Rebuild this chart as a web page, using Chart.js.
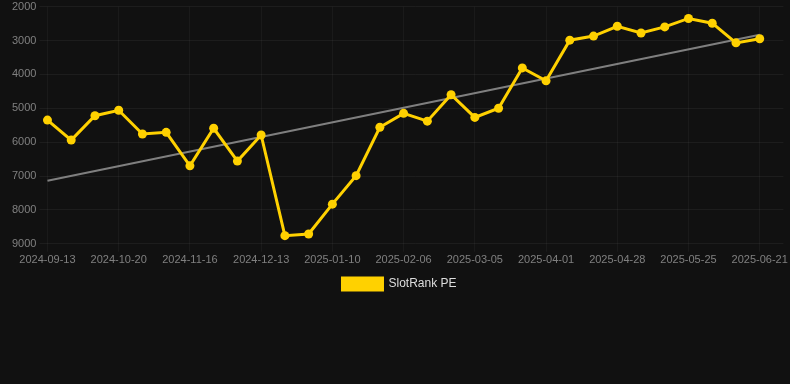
<!DOCTYPE html>
<html lang="en">
<head>
    <meta charset="UTF-8">
    <title>SlotRank PE</title>
    <style>
        html, body {
            margin: 0;
            padding: 0;
            background: #111111;
            overflow: hidden;
        }

        .wrap {
            width: 790px;
            height: 303px;
            margin-top: -3px;
        }
    </style>
    <script src="https://cdn.jsdelivr.net/npm/chart.js"></script>
</head>
<body>
    <div class="wrap">
        <canvas id="rankChart"></canvas>
    </div>

    <script>
        const dates = [
            '2024-09-13', '2024-09-25', '2024-10-08', '2024-10-20', '2024-10-29', '2024-11-07',
            '2024-11-16', '2024-11-25', '2024-12-04', '2024-12-13', '2024-12-22', '2025-01-01',
            '2025-01-10', '2025-01-19', '2025-01-28', '2025-02-06', '2025-02-15', '2025-02-24',
            '2025-03-05', '2025-03-14', '2025-03-23', '2025-04-01', '2025-04-10', '2025-04-19',
            '2025-04-28', '2025-05-07', '2025-05-16', '2025-05-25', '2025-06-03', '2025-06-12',
            '2025-06-21', '2025-06-30'
        ];
        const rankValues = [
            5350, 5940, 5220, 5060, 5760, 5710, 6700, 5590, 6560, 5790,
            8760, 8710, 7830, 6990, 5560, 5150, 5380, 4600, 5270, 5000,
            3810, 4190, 2990, 2870, 2580, 2780, 2600, 2350, 2490, 3070,
            2950
        ];
        // trend line: only the two end values, gap spanned
        const trendValues = [7140].concat(new Array(29).fill(null), [2830]);
        const yTicks = [2000, 3000, 4000, 5000, 6000, 7000, 8000, 9000];

        const ctx = document.getElementById('rankChart').getContext('2d');
        new Chart(ctx, {
            type: 'line',
            data: {
                labels: dates,
                datasets: [{
                    label: 'SlotRank PE',
                    data: rankValues,
                    borderColor: '#FFD100',
                    backgroundColor: '#FFD100',
                    borderWidth: 3,
                    pointRadius: 4.5,
                    pointBorderWidth: 0,
                    pointBackgroundColor: '#FFD100',
                    tension: 0,
                    order: 1
                }, {
                    label: 'trend',
                    data: trendValues,
                    borderColor: 'rgba(140,140,140,0.9)',
                    borderWidth: 2,
                    pointRadius: 0,
                    spanGaps: true,
                    order: 2
                }]
            },
            options: {
                responsive: true,
                maintainAspectRatio: false,
                animation: false,
                layout: {
                    padding: { left: 9, right: 0, top: 0, bottom: 0 }
                },
                plugins: {
                    legend: {
                        position: 'bottom',
                        labels: {
                            color: '#dddddd',
                            boxWidth: 40,
                            boxHeight: 12,
                            padding: 9,
                            font: { size: 12 },
                            filter: item => item.text !== 'trend'
                        }
                    },
                    tooltip: { enabled: false }
                },
                scales: {
                    x: {
                        afterBuildTicks: axis => {
                            axis.ticks = axis.ticks.filter((t, i) => i % 3 === 0);
                        },
                        grid: { color: 'rgba(255,255,255,0.04)' },
                        border: { display: false },
                        ticks: {
                            color: '#808080',
                            font: { size: 11 },
                            padding: 2,
                            autoSkip: false,
                            maxRotation: 0
                        }
                    },
                    y: {
                        reverse: true,
                        min: 2000,
                        max: 9000,
                        afterBuildTicks: axis => {
                            axis.ticks = yTicks.map(v => ({ value: v }));
                        },
                        grid: { color: 'rgba(255,255,255,0.05)' },
                        border: { display: false },
                        ticks: {
                            color: '#808080',
                            font: { size: 11 },
                            callback: value => String(value)
                        }
                    }
                }
            }
        });
    </script>
</body>
</html>
